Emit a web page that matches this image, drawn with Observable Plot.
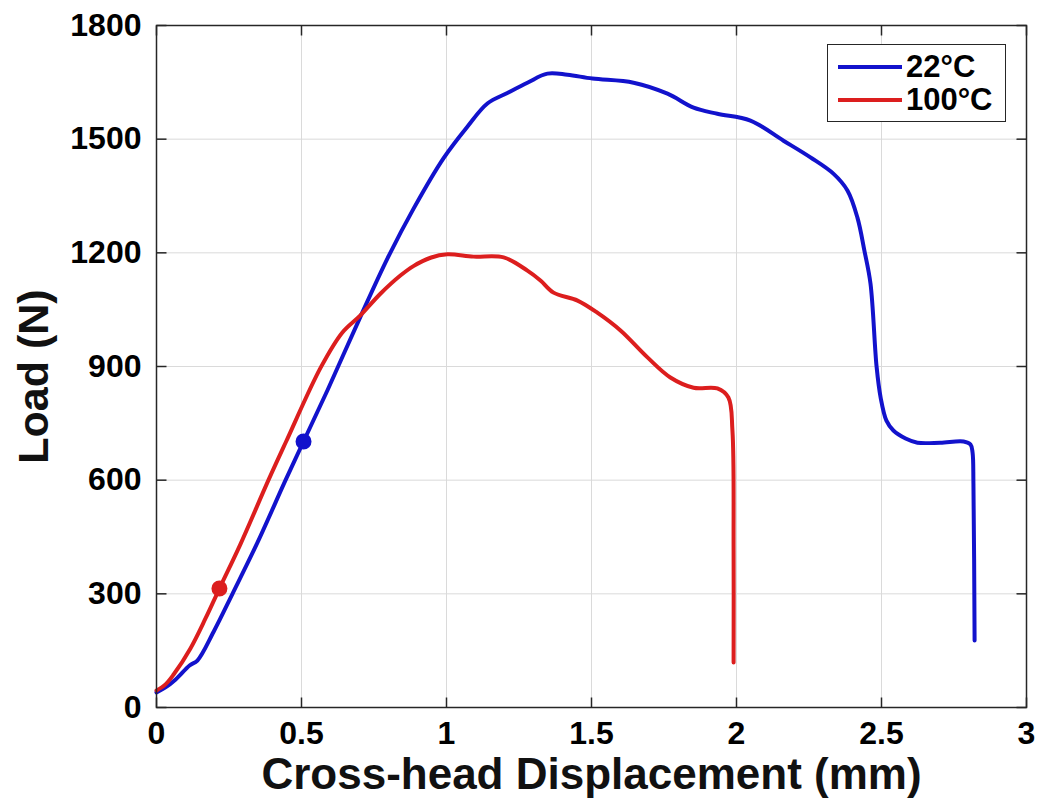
<!DOCTYPE html>
<html>
<head>
<meta charset="utf-8">
<script src="https://cdn.jsdelivr.net/npm/d3@7"></script>
<script src="https://cdn.jsdelivr.net/npm/@observablehq/plot@0.6"></script>
<style>
  html, body { margin: 0; padding: 0; background: #fff; }
  #wrap { position: relative; width: 1039px; height: 806px; }
  #legend { position: absolute; left: 827px; top: 44px; width: 179px; height: 78px;
    border: 1.5px solid #262626; background: #fff; box-sizing: border-box;
    font-family: 'Liberation Sans', Arial, sans-serif; font-weight: bold; font-size: 31px; color: #000; }
  .row { position: absolute; left: 10px; height: 34px; display: flex; align-items: center; }
  .sw { width: 64px; height: 4px; margin-right: 4px; }
</style>
</head>
<body>
<div id="wrap"></div>
<script>
// ---- data ----
const seriesNames = ["22°C", "100°C"];
const seriesColors = ["#1212cc", "#dc1e1e"];

const blueX = [0, 0.031, 0.066, 0.114, 0.141, 0.197, 0.262, 0.348, 0.445, 0.507, 0.59, 0.703, 0.797, 0.886, 0.990, 1.072, 1.141, 1.21, 1.279, 1.348, 1.417, 1.503, 1.645, 1.762, 1.852, 1.934, 2.048, 2.162, 2.255, 2.334, 2.383, 2.417, 2.441, 2.462, 2.483, 2.497, 2.517, 2.541, 2.583, 2.624, 2.703, 2.783, 2.807, 2.814, 2.817, 2.821];
const blueY = [40, 53, 74, 111, 124, 200, 300, 435, 600, 702, 838, 1031, 1186, 1316, 1450, 1533, 1594, 1622, 1649, 1673, 1670, 1660, 1649, 1620, 1583, 1567, 1549, 1496, 1452, 1409, 1364, 1293, 1206, 1119, 900, 818, 757, 731, 710, 699, 699, 702, 694, 673, 591, 177];

const redX = [0, 0.031, 0.059, 0.117, 0.169, 0.217, 0.29, 0.386, 0.447, 0.566, 0.641, 0.703, 0.772, 0.841, 0.886, 0.945, 1.003, 1.093, 1.197, 1.279, 1.324, 1.369, 1.452, 1.52, 1.60, 1.693, 1.772, 1.852, 1.934, 1.972, 1.986, 1.99, 1.99];
const redY = [45, 61, 87, 156, 235, 314, 432, 600, 702, 897, 990, 1035, 1092, 1140, 1165, 1187, 1196, 1190, 1188, 1153, 1127, 1095, 1074, 1042, 995, 924, 871, 844, 842, 818, 731, 414, 119];

const markerX = [0.507, 0.217];
const markerY = [702, 314];

const xTicks = [0, 0.5, 1, 1.5, 2, 2.5, 3];
const xTickLabels = ["0", "0.5", "1", "1.5", "2", "2.5", "3"];
const yTicks = [0, 300, 600, 900, 1200, 1500, 1800];
const yTickLabels = ["0", "300", "600", "900", "1200", "1500", "1800"];

const xTitle = "Cross-head Displacement (mm)";
const yTitle = "Load (N)";

// ---- build ----
const W = 1039, H = 806, mL = 156, mR = 13, mT = 25, mB = 99;
const xDom = [0, 3], yDom = [0, 1800];
const tickPx = 10;
const tickDX = tickPx * (xDom[1] - xDom[0]) / (W - mL - mR);
const tickDY = tickPx * (yDom[1] - yDom[0]) / (H - mT - mB);

const blue = blueX.map((x, i) => ({x, y: blueY[i]}));
const red = redX.map((x, i) => ({x, y: redY[i]}));
const markers = markerX.map((x, i) => ({x, y: markerY[i], c: seriesColors[i]}));
const ink = "#262626";

const chart = Plot.plot({
  width: W, height: H,
  marginLeft: mL, marginRight: mR, marginTop: mT, marginBottom: mB,
  x: {domain: xDom},
  y: {domain: yDom},
  style: {fontFamily: "'Liberation Sans', Arial, sans-serif", fontWeight: "bold", background: "#fff", color: ink, overflow: "visible"},
  marks: [
    Plot.gridX(xTicks, {stroke: "#dadada", strokeOpacity: 1, strokeWidth: 1}),
    Plot.gridY(yTicks, {stroke: "#dadada", strokeOpacity: 1, strokeWidth: 1}),
    Plot.link(xTicks, {x1: d => d, x2: d => d, y1: yDom[0], y2: yDom[0] + tickDY, stroke: ink, strokeWidth: 1.5}),
    Plot.link(xTicks, {x1: d => d, x2: d => d, y1: yDom[1], y2: yDom[1] - tickDY, stroke: ink, strokeWidth: 1.5}),
    Plot.link(yTicks, {y1: d => d, y2: d => d, x1: xDom[0], x2: xDom[0] + tickDX, stroke: ink, strokeWidth: 1.5}),
    Plot.link(yTicks, {y1: d => d, y2: d => d, x1: xDom[1], x2: xDom[1] - tickDX, stroke: ink, strokeWidth: 1.5}),
    Plot.line(blue, {x: "x", y: "y", stroke: seriesColors[0], strokeWidth: 4, curve: "catmull-rom"}),
    Plot.line(red, {x: "x", y: "y", stroke: seriesColors[1], strokeWidth: 4, curve: "catmull-rom"}),
    Plot.dot(markers, {x: "x", y: "y", r: 7, fill: "c", stroke: "c", strokeWidth: 2, symbol: "circle"}),
    Plot.frame({stroke: ink, strokeWidth: 1.5}),
    Plot.axisX(xTicks, {tickSize: 0, tickPadding: 14, fontSize: 32, fill: "#000",
      tickFormat: d => xTickLabels[xTicks.indexOf(d)], label: null}),
    Plot.axisY(yTicks, {tickSize: 0, tickPadding: 15, fontSize: 32, fill: "#000",
      tickFormat: d => yTickLabels[yTicks.indexOf(d)], label: null}),
    Plot.text([xTitle], {frameAnchor: "bottom", dy: 67, lineAnchor: "middle", textAnchor: "middle", fontSize: 44, fontWeight: "bold", fill: "#111"}),
    Plot.text([yTitle], {frameAnchor: "left", dx: -122, dy: 10, rotate: -90, lineAnchor: "middle", textAnchor: "middle", fontSize: 43, fontWeight: "bold", fill: "#111"})
  ]
});

const wrap = document.getElementById("wrap");
wrap.appendChild(chart);

const legend = document.createElement("div");
legend.id = "legend";
seriesNames.forEach((name, i) => {
  const row = document.createElement("div");
  row.className = "row";
  row.style.top = (i === 0 ? 5 : 38) + "px";
  const sw = document.createElement("div");
  sw.className = "sw";
  sw.style.background = seriesColors[i];
  const t = document.createElement("span");
  t.textContent = name;
  row.appendChild(sw);
  row.appendChild(t);
  legend.appendChild(row);
});
wrap.appendChild(legend);
</script>
</body>
</html>
